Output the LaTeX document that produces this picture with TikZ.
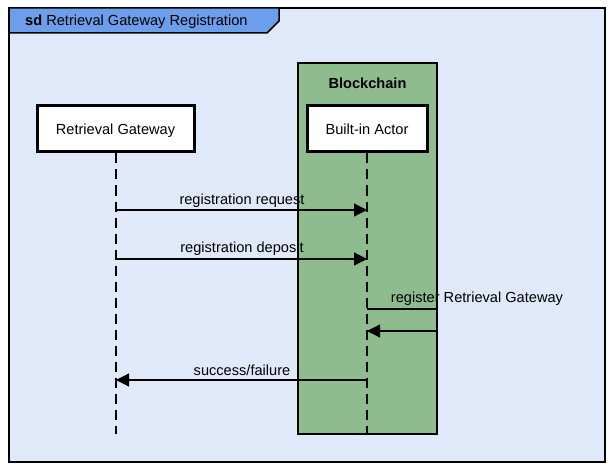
\documentclass[tikz,border=0pt]{standalone}
\usepackage{fontspec}
\setmainfont{Liberation Sans}
\usetikzlibrary{arrows.meta}
\definecolor{bgblue}{HTML}{E0E9F9}
\definecolor{tabblue}{HTML}{6D9EEB}
\definecolor{chaingreen}{HTML}{8FBC8F}
\tikzset{
  px/.style={x=1pt,y=-1pt},
  txt/.style={font=\fontsize{14.6}{17}\selectfont},
  actorbox/.style={txt,draw=black,line width=3pt,fill=white,minimum width=157pt,minimum height=46pt,inner sep=0pt,text height=11.5pt,text depth=0pt},
  lifeline/.style={draw=black,line width=1.2pt,dash pattern=on 10pt off 6pt},
  msg/.style={draw=black,line width=1.2pt,-{Triangle[length=13pt,width=13pt]}},
  msglabel/.style={txt,inner sep=0pt}
}
\begin{document}
\begin{tikzpicture}[px]
\useasboundingbox (0,0) rectangle (609,470);
% frame
\draw[fill=bgblue,line width=1.5pt] (9,8) rectangle (605,462);
\draw[fill=tabblue,line width=1.5pt] (9,8) -- (279,8) -- (279,21) -- (267,33) -- (9,33) -- cycle;
\node[anchor=west,inner sep=0pt,txt] (title) at (25,22) {\textbf{sd} Retrieval Gateway Registration};
% blockchain
\node[draw=black,line width=1.5pt,fill=chaingreen,minimum width=139pt,minimum height=371pt,inner sep=0pt] (chain) at (367.5,248.5) {};
\node[txt,font=\bfseries\fontsize{14.6}{17}\selectfont,inner sep=0pt] (chainlbl) at (367.5,83.5) {Blockchain};
% actors
\node[actorbox,minimum width=120pt] (actor) at (367,129) {Built-in Actor};
\node[actorbox] (gw) at (115.5,129) {Retrieval Gateway};
\coordinate (gwend) at (116,434);
\coordinate (actend) at (367,434);
\draw[lifeline] (gw.south -| gwend) -- (gwend);
\draw[lifeline] (actor.south -| actend) -- (actend);
% messages
\coordinate (m1a) at (116,210); \coordinate (m1b) at (367,210);
\coordinate (m2a) at (116,259); \coordinate (m2b) at (367,259);
\coordinate (s1) at (367,309); \coordinate (s2) at (437,309);
\coordinate (s3) at (437,331); \coordinate (s4) at (367,331);
\coordinate (r1) at (367,380); \coordinate (r2) at (116,380);
\draw[msg] (m1a) -- (m1b);
\node[msglabel] (l1) at (242,200.5) {registration request};
\draw[msg] (m2a) -- (m2b);
\node[msglabel] (l2) at (242,248.5) {registration deposit};
\draw[msg] (s1) -- (s2) -- (s3) -- (s4);
\node[msglabel] (l3) at (477,298.5) {register Retrieval Gateway};
\draw[msg] (r1) -- (r2);
\node[msglabel] (l4) at (242,370.5) {success/failure};
\end{tikzpicture}
\end{document}
